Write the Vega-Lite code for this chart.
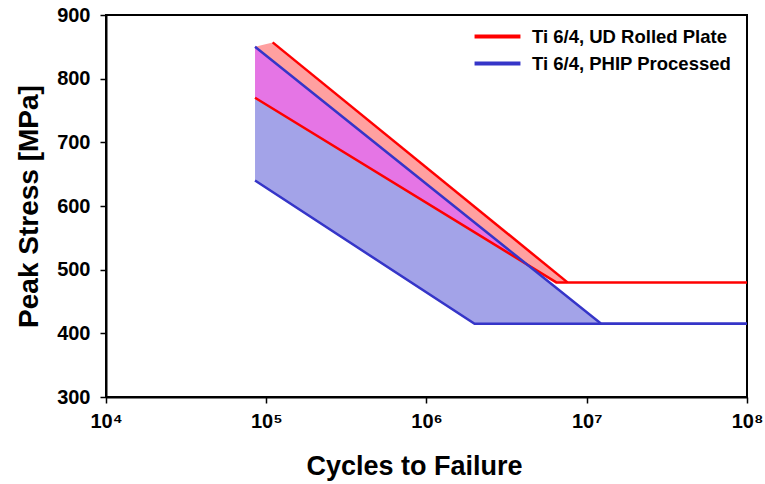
{
  "$schema": "https://vega.github.io/schema/vega-lite/v6.json",
  "autosize": "none",
  "width": 641,
  "height": 382,
  "padding": {"left": 106, "top": 15, "right": 18, "bottom": 87},
  "background": "white",
  "config": {
    "view": {"stroke": "#000", "strokeWidth": 2},
    "font": "Liberation Sans",
    "axis": {"grid": false, "domainColor": "#000", "domainWidth": 2, "tickColor": "#000", "tickWidth": 1.5, "tickSize": 6, "labelFont": "Liberation Sans", "labelFontWeight": "bold", "labelColor": "#000", "titleFont": "Liberation Sans", "titleFontWeight": "bold", "titleColor": "#000"}
  },
  "datasets": {
    "blue": [
      {"N": 85114, "lo": 640, "hi": 850},
      {"N": 1995262, "lo": 415, "hi": 574},
      {"N": 12302688, "lo": 415, "hi": 415}
    ],
    "red": [
      {"N": 85114, "lo": 770, "hi": 850},
      {"N": 109648, "lo": 753, "hi": 857},
      {"N": 6456542, "lo": 480, "hi": 494},
      {"N": 7585776, "lo": 480, "hi": 480}
    ],
    "overlap": [
      {"N": 85114, "lo": 770, "hi": 850},
      {"N": 4265795, "lo": 508, "hi": 508}
    ],
    "lines": [
      {"seg": "ru", "series": "Ti 6/4, UD Rolled Plate", "N": 109648, "S": 857, "i": 1},
      {"seg": "ru", "series": "Ti 6/4, UD Rolled Plate", "N": 7585776, "S": 480, "i": 2},
      {"seg": "rl", "series": "Ti 6/4, UD Rolled Plate", "N": 85114, "S": 770, "i": 1},
      {"seg": "rl", "series": "Ti 6/4, UD Rolled Plate", "N": 6456542, "S": 480, "i": 2},
      {"seg": "rl", "series": "Ti 6/4, UD Rolled Plate", "N": 100000000, "S": 480, "i": 3},
      {"seg": "bu", "series": "Ti 6/4, PHIP Processed", "N": 85114, "S": 850, "i": 1},
      {"seg": "bu", "series": "Ti 6/4, PHIP Processed", "N": 12302688, "S": 415, "i": 2},
      {"seg": "bu", "series": "Ti 6/4, PHIP Processed", "N": 100000000, "S": 415, "i": 3},
      {"seg": "bl", "series": "Ti 6/4, PHIP Processed", "N": 85114, "S": 640, "i": 1},
      {"seg": "bl", "series": "Ti 6/4, PHIP Processed", "N": 1995262, "S": 415, "i": 2},
      {"seg": "bl", "series": "Ti 6/4, PHIP Processed", "N": 100000000, "S": 415, "i": 3}
    ]
  },
  "encoding": {
    "x": {"field": "N", "type": "quantitative", "scale": {"type": "log", "domain": [10000, 100000000]},
      "axis": {"values": [10000, 100000, 1000000, 10000000, 100000000], "labelExpr": "['10⁴','10⁵','10⁶','10⁷','10⁸'][round(log(datum.value)/log(10))-4]", "labelFlush": false, "labelFontSize": 20, "labelPadding": 8, "title": "Cycles to Failure", "titleFontSize": 27, "titlePadding": 22, "titleX": 308}}
  },
  "layer": [
    {
      "data": {"name": "blue"},
      "mark": {"type": "area", "color": "#a3a3e8", "opacity": 1},
      "encoding": {
        "y": {"field": "hi", "type": "quantitative", "stack": null, "scale": {"domain": [300, 900], "nice": false},
          "axis": {"values": [300, 400, 500, 600, 700, 800, 900], "labelFontSize": 20, "labelPadding": 10, "title": "Peak Stress [MPa]", "titleFontSize": 28, "titlePadding": 13}},
        "y2": {"field": "lo"}
      }
    },
    {
      "data": {"name": "red"},
      "mark": {"type": "area", "color": "#ffa0a0", "opacity": 1},
      "encoding": {
        "y": {"field": "hi", "type": "quantitative", "stack": null},
        "y2": {"field": "lo"}
      }
    },
    {
      "data": {"name": "overlap"},
      "mark": {"type": "area", "color": "#e575e5", "opacity": 1},
      "encoding": {
        "y": {"field": "hi", "type": "quantitative", "stack": null},
        "y2": {"field": "lo"}
      }
    },
    {
      "data": {"name": "lines"},
      "mark": {"type": "line", "strokeWidth": 2.5, "strokeCap": "butt"},
      "encoding": {
        "y": {"field": "S", "type": "quantitative"},
        "detail": {"field": "seg"},
        "order": {"field": "i", "type": "quantitative"},
        "color": {"field": "series", "type": "nominal",
          "scale": {"domain": ["Ti 6/4, UD Rolled Plate", "Ti 6/4, PHIP Processed"], "range": ["#ff0000", "#3535c8"]},
          "legend": {"orient": "none", "legendX": 376, "legendY": 6, "title": null, "symbolType": "M-1.7,0H1.7", "symbolStrokeWidth": 4, "symbolSize": 729, "labelFont": "Liberation Sans", "labelFontWeight": "bold", "labelFontSize": 18.5, "labelColor": "#000", "rowPadding": 2, "labelOffset": 19, "labelLimit": 300}
        }
      }
    }
  ]
}
